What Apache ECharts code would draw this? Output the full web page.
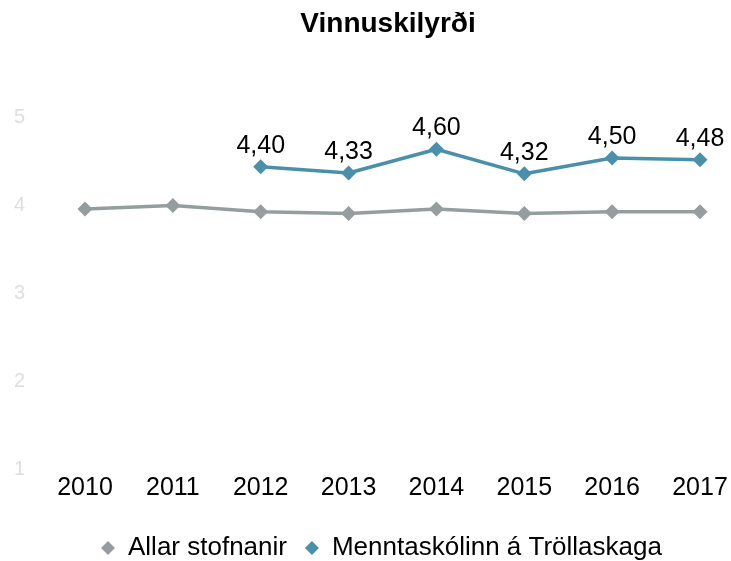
<!DOCTYPE html>
<html>
<head>
<meta charset="utf-8">
<script src="https://cdn.jsdelivr.net/npm/echarts@6/dist/echarts.min.js"></script>
<style>
html, body { margin: 0; padding: 0; background: #fff; }
#main { width: 731px; height: 561px; }
</style>
</head>
<body>
<div id="main"></div>
<script>
var years = ['2010', '2011', '2012', '2013', '2014', '2015', '2016', '2017'];
var allar = [3.92, 3.96, 3.89, 3.87, 3.92, 3.87, 3.89, 3.89];
var mtr = [null, null, 4.40, 4.33, 4.60, 4.32, 4.50, 4.48];
var seriesNames = ['Allar stofnanir', 'Menntaskólinn á Tröllaskaga'];

var chart = echarts.init(document.getElementById('main'));
var font = 'Liberation Sans, Arial, sans-serif';

var option = {
  color: ['#959d9f', '#4a90aa'],
  title: {
    text: 'Vinnuskilyrði',
    left: 383,
    textAlign: 'center',
    top: 5,
    textStyle: { fontFamily: font, fontSize: 28, fontWeight: 'bold', color: '#000' }
  },
  legend: {
    bottom: -5,
    left: 96,
    itemGap: 18,
    icon: 'diamond',
    itemWidth: 14,
    itemHeight: 14,
    textStyle: { fontFamily: font, fontSize: 26, color: '#000', padding: [0, 0, 0, 8] },
    data: seriesNames
  },
  grid: { left: 85, right: 31, top: 114, bottom: 95 },
  xAxis: {
    type: 'category',
    data: years,
    boundaryGap: false,
    axisLine: { show: false },
    axisTick: { show: false },
    axisLabel: { fontFamily: font, fontSize: 25, color: '#000', margin: 10 }
  },
  yAxis: {
    type: 'value',
    min: 1,
    max: 5,
    interval: 1,
    splitLine: { show: false },
    axisLine: { show: false },
    axisTick: { show: false },
    axisLabel: {
      margin: 60,
      formatter: '{a|{value}}',
      rich: { a: { fontFamily: font, fontSize: 20, color: '#dedede', padding: [7, 0, 0, 0] } }
    }
  },
  series: [
    {
      name: seriesNames[0],
      type: 'line',
      data: allar,
      symbol: 'diamond',
      symbolSize: 15,
      lineStyle: { width: 3.5 },
      itemStyle: { color: '#959d9f' }
    },
    {
      name: seriesNames[1],
      type: 'line',
      data: mtr,
      symbol: 'diamond',
      symbolSize: 15,
      lineStyle: { width: 3.5 },
      itemStyle: { color: '#4a90aa' },
      label: {
        show: true,
        position: 'top',
        distance: 1,
        fontFamily: font,
        fontSize: 25,
        color: '#000',
        formatter: function (p) { return p.value.toFixed(2).replace('.', ','); }
      }
    }
  ]
};
chart.setOption(option);
</script>
</body>
</html>
